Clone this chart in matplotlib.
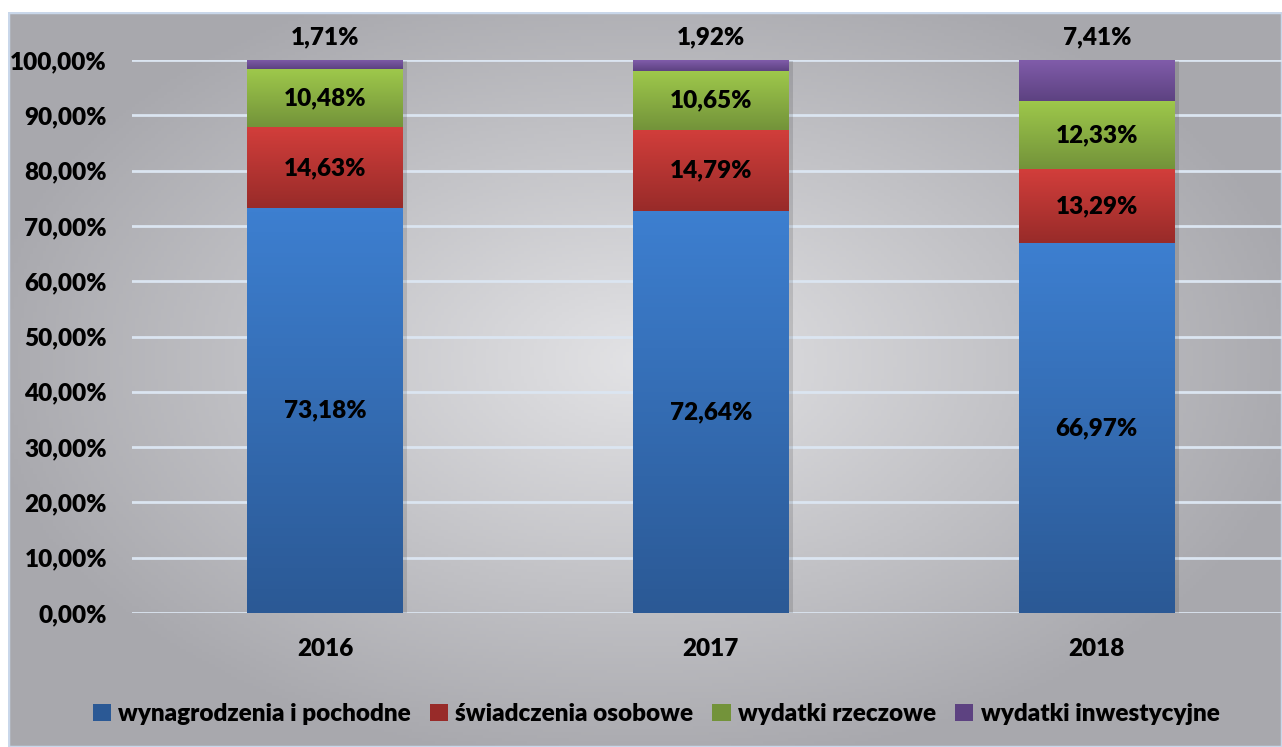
import matplotlib

matplotlib.use("Agg")
import matplotlib.patheffects as pe
import matplotlib.pyplot as plt
import numpy as np
from matplotlib.colors import to_rgb
from matplotlib.font_manager import FontProperties
from matplotlib.patches import Patch, Rectangle

years = ["2016", "2017", "2018"]
series_names = [
    "wynagrodzenia i pochodne",
    "świadczenia osobowe",
    "wydatki rzeczowe",
    "wydatki inwestycyjne",
]
wynagrodzenia = [73.18, 72.64, 66.97]
swiadczenia = [14.63, 14.79, 13.29]
rzeczowe = [10.48, 10.65, 12.33]
inwestycyjne = [1.71, 1.92, 7.41]
y_ticks = [0, 10, 20, 30, 40, 50, 60, 70, 80, 90, 100]

# light (top) and dark (bottom) shade of every series
shades = [
    ("#3d7fd0", "#2b5995"),
    ("#d23e3b", "#982b29"),
    ("#9ec84b", "#73933a"),
    ("#805caa", "#5d4281"),
]

plt.rcParams["font.family"] = ["Lato", "DejaVu Sans"]
FS = 17.5
font = FontProperties(family=["Lato", "DejaVu Sans"], weight=800, size=FS)

W, H = 1282, 747
fig = plt.figure(figsize=(W / 100, H / 100), dpi=100)
fig.patch.set_facecolor("white")

# chart area background: soft radial gradient, light in the middle
bg = fig.add_axes([8 / W, 0, 1 - 8 / W, 1 - 12 / H], zorder=-2)
gx, gy = np.meshgrid(np.linspace(-1, 1, 400), np.linspace(-1, 1, 240))
r = np.clip(np.sqrt((gx * 0.95) ** 2 + ((gy + 0.05) * 0.9) ** 2), 0, 1)
centre = np.array([0.89, 0.89, 0.90])
edge = np.array([0.66, 0.66, 0.68])
img = centre[None, None, :] * (1 - r[..., None]) + edge[None, None, :] * r[..., None]
bg.imshow(img, extent=(0, 1, 0, 1), aspect="auto", origin="upper")
bg.add_patch(Rectangle((0, 0), 1, 1, transform=bg.transAxes, fill=False,
                       edgecolor="#c9d7ea", linewidth=2.5))
bg.set_axis_off()

ax = fig.add_axes([132 / W, 1 - 613 / H, 1 - 132 / W, (613 - 60) / H])
ax.set_facecolor("none")

x = np.arange(len(years))
width = 0.404
series = [wynagrodzenia, swiadczenia, rzeczowe, inwestycyjne]
shadow = [pe.SimplePatchShadow(offset=(3, -1), shadow_rgbFace="black", alpha=0.12), pe.Normal()]
bottom = np.zeros(len(years))
for idx, vals in enumerate(series):
    vals = np.array(vals)
    top_c, bot_c = shades[idx]
    bars = ax.bar(x, vals, width, bottom=bottom, color=bot_c, linewidth=0, zorder=2)
    grad = np.linspace(0, 1, 100)[:, None, None]
    col = np.array(to_rgb(top_c))[None, None, :] * (1 - grad) + np.array(to_rgb(bot_c))[None, None, :] * grad
    for b in bars:
        b.set_path_effects(shadow)
        bx, by, bw, bh = b.get_x(), b.get_y(), b.get_width(), b.get_height()
        im = ax.imshow(col, extent=(bx, bx + bw, by, by + bh), aspect="auto",
                       origin="upper", zorder=3)
        im.set_clip_path(b)
    for xi, b0, v in zip(x, bottom, vals):
        label = f"{v:.2f}%".replace(".", ",")
        if idx == len(series) - 1:
            ax.annotate(label, (xi, 100), xytext=(0, 16), textcoords="offset points",
                        ha="center", va="center", fontproperties=font,
                        color="black", zorder=5, annotation_clip=False)
        else:
            ax.text(xi, b0 + v / 2, label, ha="center", va="center",
                    fontproperties=font, color="black", zorder=5)
    bottom = bottom + vals

ax.set_xlim(-0.5, 2.48)
ax.set_ylim(0, 100)
ax.set_yticks(y_ticks)
ax.set_yticklabels([f"{t:.2f}%".replace(".", ",") for t in y_ticks])
ax.set_xticks(x)
ax.set_xticklabels(years)
ax.tick_params(axis="both", length=0)
ax.tick_params(axis="y", pad=18)
ax.tick_params(axis="x", pad=18)
for lab in ax.get_xticklabels() + ax.get_yticklabels():
    lab.set_fontproperties(font)
ax.yaxis.grid(True, color="#dbe5f1", linewidth=2, zorder=1)
ax.set_axisbelow(True)
for s in ax.spines.values():
    s.set_visible(False)

handles = [Patch(facecolor=c[1], edgecolor="none") for c in shades]
fig.legend(handles, series_names, loc="center", bbox_to_anchor=(656 / W, 1 - 714 / H),
           ncol=4, frameon=False, handlelength=0.75, handleheight=0.75,
           handletextpad=0.3, columnspacing=0.78, prop=font)

fig.savefig("out.png", dpi=100)
